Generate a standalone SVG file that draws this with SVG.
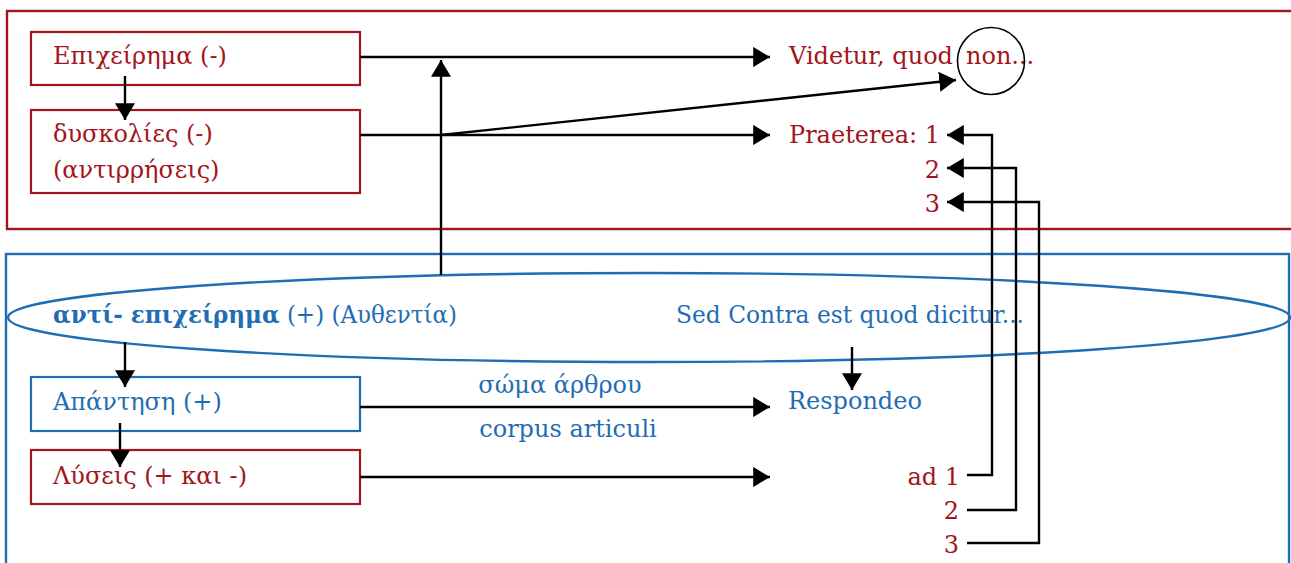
<svg xmlns="http://www.w3.org/2000/svg" width="1291" height="563" viewBox="0 0 1291 563">
<defs>
<marker id="ah" viewBox="0 0 10 12" refX="10" refY="6" markerWidth="7" markerHeight="8.4" markerUnits="strokeWidth" orient="auto">
<path d="M0,0 L10,6 L0,12 Z" fill="#000"/>
</marker>
</defs>
<style>
.red{fill:#a3151c}
.blue{fill:#1f6db4}
text{font-family:"DejaVu Serif","Liberation Serif",serif;font-size:24px}
.rbox{fill:#fff;stroke:#a3151c;stroke-width:2.2}
.bbox{fill:#fff;stroke:#1f6db4;stroke-width:2.2}
.ca{fill:none;stroke:#000;stroke-width:2.4;marker-end:url(#ah)}
</style>
<rect width="1291" height="563" fill="#fff"/>
<g id="frame-objections"><rect x="7" y="11" width="1290" height="218" fill="none" stroke="#a3151c" stroke-width="2.4"/></g>
<g id="frame-answers"><rect x="6" y="254" width="1283" height="320" fill="none" stroke="#1f6db4" stroke-width="2.4"/></g>
<g id="n-epicheirema"><rect class="rbox" x="31" y="32" width="329" height="53"/><text class="red" x="53" y="64">Επιχείρημα (-)</text></g>
<g id="n-dyskolies"><rect class="rbox" x="31" y="110" width="329" height="83"/><text class="red" x="53" y="142">δυσκολίες (-)</text><text class="red" x="53" y="178">(αντιρρήσεις)</text></g>
<g id="n-anti"><ellipse cx="649" cy="317.5" rx="641" ry="44.5" fill="none" stroke="#1f6db4" stroke-width="2.4"/><text class="blue" x="53" y="323" textLength="404" lengthAdjust="spacingAndGlyphs"><tspan font-weight="bold">αντί- επιχείρημα</tspan> (+) (Αυθεντία)</text><text class="blue" x="676" y="323" textLength="348" lengthAdjust="spacingAndGlyphs">Sed Contra est quod dicitur...</text></g>
<g id="n-apantisi"><rect class="bbox" x="31" y="377" width="329" height="54"/><text class="blue" x="53" y="410">Απάντηση (+)</text></g>
<g id="n-lyseis"><rect class="rbox" x="31" y="450" width="329" height="54"/><text class="red" x="53" y="484">Λύσεις (+ και -)</text></g>
<g id="n-videtur"><text class="red" x="789" y="64">Videtur, quod</text><text class="red" x="966" y="64">non...</text><circle cx="991" cy="61" r="33.5" fill="none" stroke="#000" stroke-width="1.6"/></g>
<g id="n-praeterea"><text class="red" x="789" y="143">Praeterea: 1</text><text class="red" x="940" y="178" text-anchor="end">2</text><text class="red" x="940" y="212" text-anchor="end">3</text></g>
<g id="n-respondeo"><text class="blue" x="788" y="409">Respondeo</text></g>
<g id="n-ad"><text class="red" x="960" y="485" text-anchor="end">ad 1</text><text class="red" x="959" y="519" text-anchor="end">2</text><text class="red" x="959" y="553" text-anchor="end">3</text></g>
<g id="labels"><text class="blue" x="560" y="393" text-anchor="middle">σώμα άρθρου</text><text class="blue" x="568" y="437" text-anchor="middle">corpus articuli</text></g>
<g id="connectors">
<line class="ca" x1="125" y1="76" x2="125" y2="120"/>
<line class="ca" x1="360" y1="57" x2="770" y2="57"/>
<line class="ca" x1="441" y1="275" x2="441" y2="60"/>
<line class="ca" x1="360" y1="135" x2="770" y2="135"/>
<line class="ca" x1="441" y1="135" x2="956" y2="80"/>
<polyline class="ca" points="967,475 992,475 992,135 947,135"/>
<polyline class="ca" points="967,510 1016,510 1016,168 947,168"/>
<polyline class="ca" points="967,543 1039,543 1039,202 947,202"/>
<line class="ca" x1="125" y1="342" x2="125" y2="387"/>
<line class="ca" x1="120" y1="423" x2="120" y2="467"/>
<line class="ca" x1="360" y1="407" x2="770" y2="407"/>
<line class="ca" x1="360" y1="477" x2="770" y2="477"/>
<line class="ca" x1="852" y1="347" x2="852" y2="390"/>
</g>
</svg>
